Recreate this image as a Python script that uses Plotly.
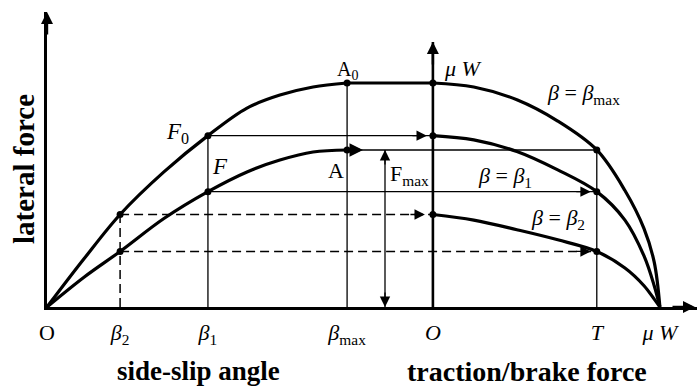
import plotly.graph_objects as go

# ---- friction-ellipse schematic data (normalised: mu*W = 1) ----
# left half: lateral force vs side-slip angle
slip = [0, 0.163, 0.322, 0.515, 0.709, 0.881, 1.026, 1.172, 1.322]
lat_free = [0, 0.215, 0.413, 0.603, 0.765, 0.888, 0.946, 0.982, 1.0]    # no traction (F0 curve)
lat_traction = [0, 0.133, 0.248, 0.395, 0.515, 0.603, 0.656, 0.692, 0.701]  # with traction T (F curve)

# right half: lateral force vs traction/brake force, one curve per slip angle
traction = [0, 0.18, 0.37, 0.55, 0.722, 0.846, 0.93, 0.975, 1.0]
lat_bmax = [1.0, 0.982, 0.925, 0.83, 0.701, 0.52, 0.35, 0.2, 0]
lat_b1 = [0.765, 0.746, 0.694, 0.612, 0.515, 0.388, 0.228, 0.095, 0]
lat_b2 = [0.413, 0.388, 0.345, 0.30, 0.248, 0.174, 0.095, 0.035, 0]

slip_ticks = ["O", "<i>β</i><sub>2</sub>", "<i>β</i><sub>1</sub>", "<i>β</i><sub>max</sub>"]
force_ticks = ["<i>O</i>", "<i>T</i>", "<i>μ W</i>"]

# ---- layout constants ----
W, H = 697, 389
ML, MR, MT, MB = 47, 0, 12, 82
PX_X, PX_Y = 227.0, 224.0          # pixels per unit on each axis
X_MAX = (W - ML - MR) / PX_X
Y_MAX = (H - MT - MB) / PX_Y
X0R = 1.70                          # where the traction axis starts
SERIF = "Liberation Serif"
INK = "black"

b2, b1, bmax = slip[2], slip[4], slip[8]
T_pos = X0R + traction[4]
muW_pos = X0R + traction[-1]
F0 = lat_free[4]
F = lat_traction[4]
Fmax = lat_traction[-1]
up2 = lat_free[2]
lo2 = lat_traction[2]
xr = [X0R + t for t in traction]

fig = go.Figure()


def seg(xs, ys, width=1.3, dash=None):
    fig.add_trace(go.Scatter(x=xs, y=ys, mode="lines", hoverinfo="skip",
                             line=dict(color=INK, width=width, dash=dash)))


def curve(xs, ys, width=3.2):
    fig.add_trace(go.Scatter(x=xs, y=ys, mode="lines", hoverinfo="skip",
                             line=dict(color=INK, width=width, shape="spline", smoothing=1.0)))


# thin construction lines
seg([b1, b1], [0, F0])
seg([bmax, bmax], [0, 1.0])
seg([T_pos, T_pos], [0, Fmax])
seg([bmax, T_pos], [Fmax, Fmax])
seg([b1, X0R], [F0, F0])
seg([b1, T_pos], [F, F])
# dashed construction lines
dash = "9px,5px"
seg([b2, b2], [0, up2], 1.5, dash)
seg([b2, X0R], [up2, up2], 1.5, dash)
seg([b2, T_pos], [lo2, lo2], 1.5, dash)
# central (traction = 0) axis
seg([X0R, X0R], [0, (H - MB - 42) / PX_Y], 2.6)
# F_max double arrow shaft
fmax_x = 1.489
seg([fmax_x, fmax_x], [0, Fmax], 1.3)

# heavy curves
curve(slip, lat_free)
seg([bmax, X0R], [lat_free[-1], lat_bmax[0]], 2.8)
curve(slip, lat_traction)
curve(xr, lat_bmax)
curve(xr, lat_b1)
curve(xr, lat_b2)

# marked points
px = [b2, b2, b1, b1, bmax, bmax, X0R, X0R, X0R, T_pos, T_pos, T_pos]
py = [up2, lo2, F0, F, 1.0, Fmax, 1.0, F0, up2, Fmax, F, lo2]
fig.add_trace(go.Scatter(x=px, y=py, mode="markers", hoverinfo="skip",
                         marker=dict(color=INK, size=7)))

ann = []


def head(x, y, dx, dy, width=1.3, size=1.6):
    ann.append(dict(x=x, y=y, xref="x", yref="y", ax=dx, ay=dy, axref="pixel", ayref="pixel",
                    text="", showarrow=True, arrowhead=2, arrowsize=size,
                    arrowwidth=width, arrowcolor=INK))


# axis arrowheads
head(0, Y_MAX, 0, 24, 2.4, 1.0)
head(X_MAX - 2 / PX_X, 0, -24, 0, 2.4, 1.0)
head(X0R, (H - MB - 42) / PX_Y, 0, 24, 2.4, 1.0)
# flow arrowheads
head(X0R - 6 / PX_X, F0, -16, 0)
head(T_pos - 6 / PX_X, F, -16, 0)
head(X0R - 8 / PX_X, up2, -16, 0)
head(T_pos - 6 / PX_X, lo2, -16, 0)
head(fmax_x, Fmax, 0, 16)
head(fmax_x, 0, 0, -16)
ann.append(dict(x=1.392, y=Fmax, ax=bmax, ay=Fmax, xref="x", yref="y", axref="x", ayref="y",
                text="", showarrow=True, arrowhead=2, arrowsize=0.9, arrowwidth=3, arrowcolor=INK))


def label(text, x, y, size=22, xanchor="center", yanchor="middle", xref="x", yref="y", angle=0):
    ann.append(dict(x=x, y=y, xref=xref, yref=yref, text=text, showarrow=False,
                    xanchor=xanchor, yanchor=yanchor, textangle=angle,
                    font=dict(family=SERIF, size=size, color=INK)))


label("<i>F</i><sub>0</sub>", (177 - ML) / PX_X, (H - MB - 133) / PX_Y, 23)
label("<i>F</i>", (220 - ML) / PX_X, (H - MB - 166) / PX_Y, 23)
label("A<sub>0</sub>", bmax, (H - MB - 70) / PX_Y, 20)
label("A", (336 - ML) / PX_X, (H - MB - 170) / PX_Y)
label("<i>μ W</i>", (442 - ML) / PX_X, (H - MB - 68) / PX_Y, 22, xanchor="left")
label("F<sub>max</sub>", (388 - ML) / PX_X, (H - MB - 175) / PX_Y, 22, xanchor="left")
label("<i>β</i> = <i>β</i><sub>max</sub>", (583 - ML) / PX_X, (H - MB - 94) / PX_Y)
label("<i>β</i> = <i>β</i><sub>1</sub>", (505 - ML) / PX_X, (H - MB - 177) / PX_Y)
label("<i>β</i> = <i>β</i><sub>2</sub>", (558 - ML) / PX_X, (H - MB - 219) / PX_Y)

label("<b>side-slip angle</b>", (198 - ML) / PX_X, -64 / 295, 27, yref="paper")
label("<b>traction/brake force</b>", (527 - ML) / PX_X, -64 / 295, 28, yref="paper")
label("<b>lateral force</b>", (24 - ML) / 650, (H - MB - MT - 157) / 295, 29,
      xref="paper", yref="paper", angle=-90)

fig.update_layout(
    width=W, height=H, margin=dict(l=ML, r=MR, t=MT, b=MB),
    paper_bgcolor="white", plot_bgcolor="white", showlegend=False,
    annotations=ann,
    xaxis=dict(range=[0, X_MAX], showgrid=False, zeroline=False, showline=True,
               linecolor=INK, linewidth=2.6, ticks="", ticklabelstandoff=4,
               tickvals=[0, b2, b1, bmax, X0R, T_pos, muW_pos],
               ticktext=slip_ticks + force_ticks,
               tickfont=dict(family=SERIF, size=22, color=INK)),
    yaxis=dict(range=[0, Y_MAX], showgrid=False, zeroline=False, showline=True,
               linecolor=INK, linewidth=2.6, ticks="", showticklabels=False),
)

fig.write_html("out.html")
